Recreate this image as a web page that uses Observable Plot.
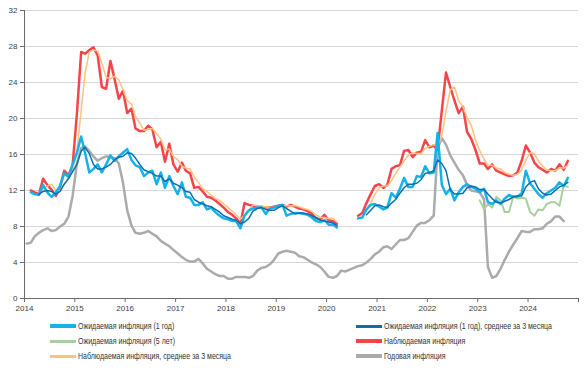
<!DOCTYPE html>
<html><head><meta charset="utf-8">
<script src="https://cdn.jsdelivr.net/npm/d3@7"></script>
<script src="https://cdn.jsdelivr.net/npm/@observablehq/plot@0.6"></script>
<style>
body{margin:0;background:#fff;font-family:"Liberation Sans","Arial",sans-serif;}
#chart{position:relative;width:586px;height:370px;overflow:hidden;}
.legend{position:absolute;left:0;top:318px;width:586px;height:52px;font-size:9px;color:#333;}
.item{position:absolute;display:flex;align-items:center;white-space:nowrap;height:12px;}
.sw{width:26px;height:3px;margin-right:2px;flex:none;}
.txt{display:inline-block;transform:scaleX(0.78);transform-origin:0 50%;}
</style></head><body>
<div id="chart"></div>
<script>
// ---- Data (monthly, plotted mid-month) ----
const legendLabels = [
  "Ожидаемая инфляция (1 год)",
  "Ожидаемая инфляция (1 год), среднее за 3 месяца",
  "Ожидаемая инфляция (5 лет)",
  "Наблюдаемая инфляция",
  "Наблюдаемая инфляция, среднее за 3 месяца",
  "Годовая инфляция"
];
const yearTicks = [2014,2015,2016,2017,2018,2019,2020,2021,2022,2023,2024,2025];
const yTicks = [0,4,8,12,16,20,24,28,32];

// Expected inflation 1y: Feb 2014 – Mar 2020
const expected1yA = [
  11.8,11.6,11.5,12.6,11.8,11.3,11.8,12.5,13.9,13.5,14.9,16.2,
  18.0,16.2,14.0,14.4,14.9,14.0,14.9,15.9,15.3,15.8,16.2,16.6,
  15.4,14.8,14.6,13.6,14.0,14.2,12.7,14.0,12.3,13.6,12.5,11.6,
  12.9,11.3,11.2,10.4,10.4,10.7,9.9,10.1,9.6,9.2,8.9,8.8,
  8.6,8.6,7.8,9.2,9.8,10.0,10.1,10.1,9.4,10.0,10.1,10.3,
  10.4,9.2,9.4,9.5,9.5,9.4,9.3,9.0,8.6,8.5,8.7,8.2,
  8.2,7.9
];
// Expected inflation 1y: Aug 2020 – Oct 2024
const expected1yB = [
  8.9,9.0,9.9,10.4,10.5,10.2,9.9,10.1,11.7,11.2,12.2,13.4,
  12.4,12.4,13.6,13.5,14.7,13.9,14.0,18.4,12.6,11.6,12.2,10.9,
  11.8,12.4,12.7,12.4,12.2,11.8,12.2,10.7,10.5,10.9,10.5,11.1,
  11.5,11.3,11.3,11.7,14.2,12.8,12.2,11.6,11.2,11.7,12.0,12.3,
  12.9,12.5,13.4
];
// Expected 1y, 3-month average: Apr 2014 – Mar 2020
const expected1yAvgA = [
  11.6,11.9,12.0,11.9,11.6,11.9,12.7,13.3,14.1,14.9,
  16.4,16.8,16.1,14.9,14.4,14.4,14.6,14.9,15.4,15.7,15.8,16.2,
  16.1,15.6,14.9,14.3,14.1,13.9,13.6,13.6,13.0,13.3,12.8,12.6,
  12.3,11.9,11.8,11.0,10.7,10.5,10.3,10.2,9.9,9.6,9.2,9.0,
  8.8,8.7,8.3,8.5,8.9,9.7,10.0,10.1,9.9,9.8,9.8,10.1,
  10.3,10.0,9.7,9.4,9.5,9.5,9.4,9.2,9.0,8.7,8.6,8.5,
  8.4,8.1
];
// Expected 1y, 3-month average: Oct 2020 – Oct 2024
const expected1yAvgB = [
  9.3,9.8,10.3,10.4,10.2,10.1,10.6,11.0,11.7,12.3,
  12.7,12.7,12.8,13.2,13.9,14.0,14.2,15.4,15.0,14.2,12.1,11.6,
  11.6,11.7,12.3,12.5,12.4,12.1,12.1,11.6,11.1,10.7,10.6,10.8,
  11.0,11.3,11.4,11.4,12.4,12.9,13.1,12.2,11.7,11.5,11.6,12.0,
  12.4,12.6,12.9
];
// Expected inflation 5y: Jan 2023 – Oct 2024
const expected5y = [
  10.9,9.9,10.5,10.1,11.3,10.9,9.6,9.6,11.3,11.1,11.2,11.1,
  9.6,9.2,9.9,9.8,10.5,10.7,10.7,10.3,12.6,12.4
];
// Observed inflation: Feb 2014 – Mar 2020
const observedA = [
  12.0,11.8,11.6,13.3,12.6,12.1,11.4,12.4,14.2,13.7,14.8,20.5,
  27.4,27.2,27.6,27.9,27.0,23.5,23.3,26.4,24.4,22.2,23.1,20.6,
  21.1,18.9,18.6,18.6,19.2,18.8,16.8,17.4,15.2,17.2,14.9,14.1,
  15.1,14.2,13.9,12.3,12.4,11.9,11.3,11.2,10.9,10.5,10.1,9.6,
  9.3,8.9,8.3,10.6,10.4,10.3,10.2,10.2,10.1,10.1,10.2,10.3,
  10.4,10.2,10.4,10.2,10.0,9.9,9.7,9.4,8.9,8.8,9.3,8.7,
  8.6,8.3
];
// Observed inflation: Aug 2020 – Oct 2024
const observedB = [
  9.2,9.5,10.6,11.6,12.5,12.7,12.3,12.6,14.4,14.7,14.8,16.4,
  16.5,15.7,16.2,16.3,17.6,16.8,17.0,16.5,20.9,25.1,23.5,22.0,
  20.6,21.3,18.5,17.7,16.5,15.0,15.0,14.4,14.9,14.2,14.0,13.8,
  13.6,13.7,14.0,15.3,17.0,16.2,15.1,14.6,14.3,14.0,14.4,14.2,
  14.9,14.3,15.3
];
// Observed, 3-month average: Apr 2014 – Mar 2020
const observedAvgA = [
  11.8,12.2,12.5,12.7,12.0,12.0,12.7,13.4,14.2,16.3,
  20.9,25.0,27.4,27.6,27.5,26.1,24.6,24.4,24.7,24.3,23.2,22.0,
  21.6,20.2,19.5,18.7,18.8,18.9,18.3,17.7,16.5,16.6,15.8,15.4,
  14.7,14.5,14.4,13.5,12.9,12.2,11.9,11.5,11.1,10.9,10.5,10.1,
  9.7,9.3,8.8,9.3,9.8,10.4,10.3,10.2,10.2,10.1,10.1,10.2,
  10.3,10.3,10.3,10.3,10.2,10.0,9.9,9.7,9.3,9.0,9.0,8.9,
  8.9,8.5
];
// Observed, 3-month average: Oct 2020 – Oct 2024
const observedAvgB = [
  9.8,10.6,11.6,12.3,12.5,12.5,13.1,13.9,14.6,15.3,
  15.9,16.2,16.1,16.1,16.7,16.9,17.1,16.8,18.1,20.8,23.2,23.5,
  22.0,21.3,20.1,19.2,17.6,16.4,15.5,14.8,14.8,14.5,14.4,14.0,
  13.8,13.7,13.8,14.3,15.4,16.2,16.1,15.3,14.7,14.3,14.2,14.2,
  14.5,14.5,14.8
];
// Annual CPI inflation: Jan 2014 – Sep 2024
const annualCPI = [
  6.1,6.2,6.9,7.3,7.6,7.8,7.5,7.6,8.0,8.3,9.1,11.4,
  15.0,16.7,16.9,16.4,15.8,15.3,15.6,15.8,15.7,15.6,15.0,12.9,
  9.8,8.1,7.3,7.2,7.3,7.5,7.2,6.9,6.4,6.1,5.8,5.4,
  5.0,4.6,4.3,4.1,4.1,4.4,3.9,3.3,3.0,2.7,2.5,2.5,
  2.2,2.2,2.4,2.4,2.4,2.3,2.5,3.1,3.4,3.5,3.8,4.3,
  5.0,5.2,5.3,5.2,5.1,4.7,4.6,4.3,4.0,3.8,3.5,3.0,
  2.4,2.3,2.5,3.1,3.0,3.2,3.4,3.6,3.7,4.0,4.4,4.9,
  5.2,5.7,5.8,5.5,6.0,6.5,6.5,6.7,7.4,8.1,8.4,8.4,
  8.7,9.2,16.7,17.8,17.1,15.9,15.1,14.3,13.7,12.6,12.0,11.9,
  11.8,11.0,3.5,2.3,2.5,3.3,4.3,5.2,6.0,6.7,7.5,7.4,
  7.4,7.7,7.7,7.8,8.3,8.6,9.1,9.1,8.6
];

const colors = {
  exp1y: "#14b2e8",
  exp1yAvg: "#0a6fb0",
  exp5y: "#a9cf9f",
  obs: "#f5454a",
  obsAvg: "#ffc17e",
  cpi: "#ababab"
};

function rows(values, year, month) {
  // month: 1-based start month; points placed mid-month
  return values.map((v, i) => ({date: new Date(Date.UTC(year, month - 1 + i, 16)), value: v}));
}

const font = '"Liberation Sans","Arial",sans-serif';
const xStart = new Date(Date.UTC(2014, 0, 1));
const xEnd = new Date(Date.UTC(2025, 0, 1));
const xTickDates = yearTicks.map(y => new Date(Date.UTC(y, 0, 1)));

function lineMark(data, stroke, w) {
  return Plot.line(data, {x: "date", y: "value", stroke, strokeWidth: w, strokeLinejoin: "round", strokeLinecap: "round"});
}

const chart = Plot.plot({
  width: 586,
  height: 318,
  marginLeft: 24,
  marginRight: 8,
  marginTop: 10,
  marginBottom: 20,
  style: {fontFamily: font, fontSize: "8px", color: "#404040", background: "#fff"},
  x: {type: "utc", domain: [xStart, xEnd], label: null},
  y: {domain: [0, 32], label: null},
  marks: [
    Plot.gridY(yTicks.filter(v => v > 0), {stroke: "#d6d6d6", strokeOpacity: 1, strokeWidth: 1}),
    Plot.axisY(yTicks, {tickSize: 4, tickPadding: 3, stroke: "#6b6b6b", fontSize: 8, label: null}),
    Plot.axisX(xTickDates, {tickSize: 4, tickPadding: 3, stroke: "#6b6b6b", fontSize: 8, label: null,
      tickFormat: d => d.getUTCFullYear() <= 2024 ? String(d.getUTCFullYear()) : ""}),
    Plot.ruleY([0], {stroke: "#6b6b6b", strokeWidth: 1}),
    Plot.ruleX([xStart], {y1: 0, y2: 32, stroke: "#6b6b6b", strokeWidth: 1}),
    lineMark(rows(annualCPI, 2014, 1), colors.cpi, 2.5),
    lineMark(rows(expected5y, 2023, 1), colors.exp5y, 2),
    lineMark(rows(observedA, 2014, 2), colors.obs, 2.5),
    lineMark(rows(observedB, 2020, 8), colors.obs, 2.5),
    lineMark(rows(observedAvgA, 2014, 4), colors.obsAvg, 1.5),
    lineMark(rows(observedAvgB, 2020, 10), colors.obsAvg, 1.5),
    lineMark(rows(expected1yA, 2014, 2), colors.exp1y, 2.5),
    lineMark(rows(expected1yB, 2020, 8), colors.exp1y, 2.5),
    lineMark(rows(expected1yAvgA, 2014, 4), colors.exp1yAvg, 1.5),
    lineMark(rows(expected1yAvgB, 2020, 10), colors.exp1yAvg, 1.5)
  ]
});

const container = document.getElementById("chart");
container.appendChild(chart);

const legend = document.createElement("div");
legend.className = "legend";
const legendItems = [
  {label: legendLabels[0], color: colors.exp1y, col: 0, row: 0, h: 4},
  {label: legendLabels[1], color: colors.exp1yAvg, col: 1, row: 0, h: 3},
  {label: legendLabels[2], color: colors.exp5y, col: 0, row: 1, h: 3},
  {label: legendLabels[3], color: colors.obs, col: 1, row: 1, h: 4},
  {label: legendLabels[4], color: colors.obsAvg, col: 0, row: 2, h: 3},
  {label: legendLabels[5], color: colors.cpi, col: 1, row: 2, h: 4}
];
const colX = [50, 356];
const rowTop = [2, 17, 32];
for (const it of legendItems) {
  const d = document.createElement("div");
  d.className = "item";
  d.style.left = colX[it.col] + "px";
  d.style.top = rowTop[it.row] + "px";
  const sw = document.createElement("span");
  sw.className = "sw";
  sw.style.background = it.color;
  sw.style.height = it.h + "px";
  const t = document.createElement("span");
  t.className = "txt";
  t.textContent = it.label;
  d.appendChild(sw);
  d.appendChild(t);
  legend.appendChild(d);
}
container.appendChild(legend);
</script>
</body></html>
